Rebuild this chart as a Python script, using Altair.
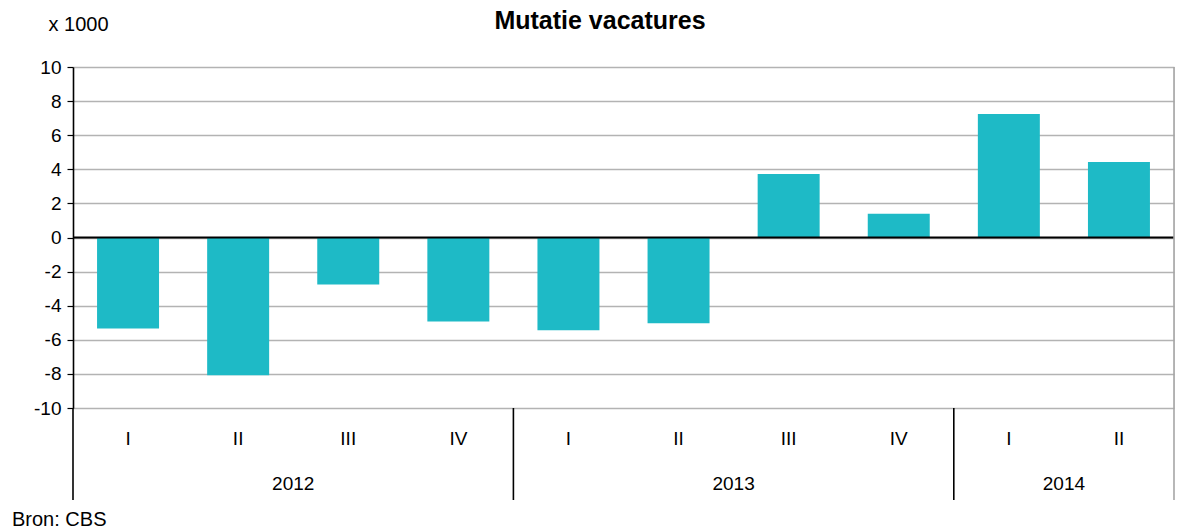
import altair as alt
import pandas as pd

# ---- data ----
years = ["2012", "2012", "2012", "2012", "2013", "2013", "2013", "2013", "2014", "2014"]
quarters = ["I", "II", "III", "IV", "I", "II", "III", "IV", "I", "II"]
values = [-5.33, -8.08, -2.75, -4.92, -5.44, -5.03, 3.73, 1.39, 7.24, 4.43]
year_labels = ["2012", "2013", "2014"]
year_mid_keys = ["2012 II", "2013 II", "2014 I"]      # label sits at right edge of this slot
year_start_keys = ["2012 I", "2013 I", "2014 I"]       # separators at left edge of this slot
y_ticks = [-10, -8, -6, -4, -2, 0, 2, 4, 6, 8, 10]

keys = [f"{y} {q}" for y, q in zip(years, quarters)]
bars = pd.DataFrame({"key": keys, "value": values})
year_df = pd.DataFrame({"key": year_mid_keys, "label": year_labels})
sep_df = pd.DataFrame({"key": year_start_keys})
end_df = pd.DataFrame({"key": [keys[-1]]})
zero_df = pd.DataFrame({"value": [0]})
src_df = pd.DataFrame({"txt": ["Bron: CBS"]})
title_df = pd.DataFrame({"txt": ["Mutatie vacatures"]})

FONT = "Liberation Sans"
BAR_FRAC = 0.563

W, H = 1101, 341
xscale = alt.Scale(domain=keys, paddingInner=0, paddingOuter=0)
yscale = alt.Scale(domain=[-10, 10], nice=False, zero=False)

x_axis = alt.Axis(title=None, labelExpr="split(datum.value, ' ')[1]",
                  ticks=False, domain=False, grid=False, labelAngle=0,
                  labelPadding=21, labelFont=FONT, labelFontSize=19,
                  labelColor="black", labelOverlap=False)
y_axis = alt.Axis(values=y_ticks, tickCount=11, title="x 1000", titleAngle=0,
                  titleAlign="left", titleBaseline="middle",
                  titleX=-25, titleY=-43, titleFont=FONT,
                  titleFontSize=20, titleFontWeight="normal",
                  titleColor="black",
                  labelExpr="datum.value < 0 ? '-' + abs(datum.value) : '' + datum.value",
                  labelOverlap=False, labelBound=False, labelFlush=False,
                  grid=True, gridColor="#b3b3b3", gridWidth=1.5,
                  domainColor="black", domainWidth=1.6,
                  tickColor="black", tickSize=6, tickWidth=1.2,
                  labelPadding=6, labelFont=FONT, labelFontSize=19,
                  labelColor="black")

bar_layer = alt.Chart(bars).mark_bar(
    color="#1EBAC6", width=alt.RelativeBandSize(BAR_FRAC)
).encode(
    x=alt.X("key:N", scale=xscale, sort=keys, axis=x_axis),
    y=alt.Y("value:Q", scale=yscale, axis=y_axis),
)

zero_layer = alt.Chart(zero_df).mark_rule(color="black", strokeWidth=2.2).encode(
    y=alt.Y("value:Q", scale=yscale, axis=y_axis)
)

year_layer = alt.Chart(year_df).mark_text(
    font=FONT, fontSize=19, color="black", baseline="middle", align="center"
).encode(
    x=alt.X("key:N", scale=xscale, sort=keys, bandPosition=1, axis=x_axis),
    y=alt.value(417),
    text="label:N",
)

sep_layer = alt.Chart(sep_df).mark_rule(color="black", strokeWidth=1.6).encode(
    x=alt.X("key:N", scale=xscale, sort=keys, bandPosition=0, axis=x_axis),
    y=alt.value(H),
    y2=alt.value(433),
)

end_layer = alt.Chart(end_df).mark_rule(color="#a6a6a6", strokeWidth=1.6).encode(
    x=alt.X("key:N", scale=xscale, sort=keys, bandPosition=1, axis=x_axis),
    y=alt.value(0),
    y2=alt.value(433),
)

src_layer = alt.Chart(src_df).mark_text(
    font=FONT, fontSize=20, color="black", align="left", baseline="alphabetic"
).encode(
    x=alt.value(-61),
    y=alt.value(459),
    text="txt:N",
)

title_layer = alt.Chart(title_df).mark_text(
    font=FONT, fontSize=25, fontWeight="bold", color="black",
    align="center", baseline="alphabetic"
).encode(
    x=alt.value(527),
    y=alt.value(-38),
    text="txt:N",
)

chart = alt.layer(
    bar_layer, zero_layer, year_layer, sep_layer, end_layer, src_layer, title_layer
).properties(
    width=W, height=H,
    autosize=alt.AutoSizeParams(type="none"),
    padding={"left": 65, "top": 59, "right": 1, "bottom": 122},
).configure_view(stroke=None).configure(background="white")

chart.save("out.html", embed_options={"renderer": "svg", "actions": False})
